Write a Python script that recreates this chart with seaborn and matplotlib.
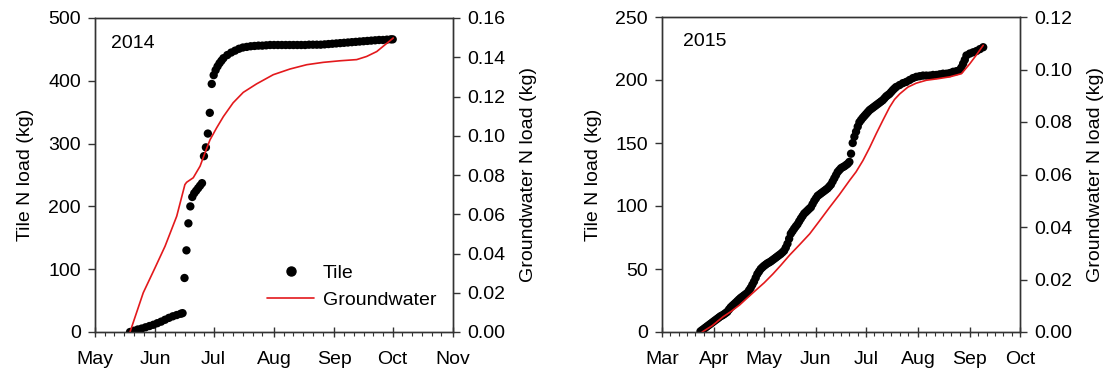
import numpy as np
import pandas as pd
import matplotlib
matplotlib.use("Agg")
import matplotlib.pyplot as plt
import matplotlib.dates as mdates
from matplotlib.lines import Line2D
import seaborn as sns

# ---------------- data ----------------
# 2014: days since 1 May 2014
tile14_days = [18, 20, 22, 24, 26, 28, 30, 32, 34, 36, 38, 40, 42, 44, 45,
               46, 47, 48, 49, 50, 51, 52, 53, 54, 55, 56, 57, 58, 59, 60, 61,
               62, 63, 64, 65, 66, 68, 70, 72, 74, 76, 78, 80, 82, 84, 86, 88,
               90, 92, 94, 96, 98, 100, 102, 104, 106, 108, 110, 112, 114, 116,
               118, 120, 122, 124, 126, 128, 130, 132, 134, 136, 138, 140, 142,
               144, 146, 148, 150, 152, 153]
tile14_kg = [0, 2, 4, 5.5, 7.5, 9.5, 11.5, 14, 16.5, 19.5, 22.5, 25, 27, 29, 30,
             86, 130, 173, 200, 215, 221, 225, 229, 233, 237, 280, 294, 316, 349, 395, 409,
             417, 423, 428, 432, 436, 441, 445, 448, 451, 453, 454, 455, 455.5, 456, 456, 456.5,
             457, 457, 457, 457, 457, 457, 457, 457, 457, 457, 457.5, 457.5, 457.5, 457.5,
             458, 458.5, 459, 459.5, 460, 460.5, 461, 461.5, 462, 462.5, 463, 463.5, 464,
             464.5, 465, 465, 465.5, 466, 466]

gw14_days = [18, 24.8, 30.8, 36, 42, 46.2, 47.1, 50.5, 54, 56.5, 59.1, 62.5, 66, 71,
             76.2, 83, 91.6, 100.2, 108.8, 117.3, 125.9, 134.5, 139.6, 144.8, 153.3]
gw14_kg = [0.0, 0.0200, 0.0326, 0.0437, 0.0590, 0.0751, 0.0763, 0.0786, 0.0845, 0.0912,
           0.0979, 0.1040, 0.1098, 0.1168, 0.1221, 0.1264, 0.1311, 0.1340, 0.1362,
           0.1374, 0.1382, 0.1388, 0.1404, 0.1429, 0.1498]

# 2015: days since 1 Mar 2015
tile15_days = list(range(23, 141)) + [142, 144, 146, 148, 150, 152, 154, 156, 158, 160,
                                      162, 164, 166, 168, 170, 172, 174, 176, 178, 179,
                                      180, 181, 182, 184, 186, 188, 190, 192]
tile15_kg = [0.5, 1.5, 2.5, 3.5, 4.5, 5.5, 6.5, 7.5, 8.5, 9.5,           # 23-32
             10.5, 11.5, 12.5, 13.2, 14, 15, 16, 17.8, 19.5, 20.8,        # 33-42
             22, 23.2, 24.5, 25.8, 27, 28, 29, 30, 31, 33,                # 43-52
             35, 37.5, 40, 43, 46, 48, 50, 51.3, 52.5, 53.5,              # 53-62
             54.5, 55.2, 56, 57, 58, 59, 60, 61, 62, 63.2,                # 63-72
             64.5, 67, 70, 74, 78, 80, 82, 83.8, 85.5, 87.8,              # 73-82
             90, 92, 94, 95.2, 96.5, 97.8, 99, 101.5, 104, 106,           # 83-92
             108, 109, 110, 111, 112, 113, 114, 115.5, 117, 119.5,        # 93-102
             122, 124.5, 127, 128.5, 130, 130.8, 131.5, 132.5, 133.5, 135,  # 103-112
             141.5, 150, 155, 159, 163, 166.5, 168.3, 170, 171.5, 173,    # 113-122
             174.5, 176, 177, 178, 179, 180, 181, 182, 183, 184,          # 123-132
             185.5, 187, 188, 189, 190.5, 192, 193.3, 194.5,              # 133-140
             196, 197.5, 198.5, 200, 201.5, 202.5, 203, 203.5, 203.5, 203.5,
             204, 204, 204.5, 205, 205, 205.5, 206.5, 207, 208, 210,
             213, 216, 219.5, 221, 222, 223, 224.5, 226]

gw15_days = [24, 30, 36.5, 41, 46.4, 51, 56.4, 61, 66.3, 71, 76.3, 82, 88.3, 94, 100.2,
             106, 112.2, 116, 120.1, 124, 128.1, 132, 136.1, 139, 142.1, 147, 152, 158,
             165, 172, 179, 184, 188, 192]
gw15_kg = [0.0, 0.0024, 0.0058, 0.0077, 0.0103, 0.0130, 0.0161, 0.0187, 0.0221, 0.0254,
           0.0293, 0.0331, 0.0374, 0.0422, 0.0475, 0.0523, 0.0578, 0.0610, 0.0653,
           0.0701, 0.0756, 0.0806, 0.0857, 0.0886, 0.0907, 0.0933, 0.0948, 0.0959,
           0.0965, 0.0972, 0.0984, 0.1022, 0.1056, 0.1092]

year_labels = ["2014", "2015"]

# ---------------- style ----------------
sns.set_theme(style="white")
plt.rcParams["font.family"] = ["Liberation Sans", "DejaVu Sans"]
plt.rcParams["axes.edgecolor"] = "#333333"
plt.rcParams["axes.linewidth"] = 1.0
plt.rcParams["text.color"] = "black"
plt.rcParams["axes.labelcolor"] = "black"
plt.rcParams["xtick.color"] = "black"
plt.rcParams["ytick.color"] = "black"

fig = plt.figure(figsize=(11.15, 3.73), dpi=100)
W, H = 1115, 373

def make_axes(x0, x1, y0, y1):
    return fig.add_axes([x0 / W, 1 - y1 / H, (x1 - x0) / W, (y1 - y0) / H])

RED = "#e3191c"
FS = 14

panels = [
    dict(ax=make_axes(95, 453, 18, 332), start="2014-05-01", end="2014-11-01",
         td=tile14_days, tv=tile14_kg, gd=gw14_days, gv=gw14_kg,
         ylim=(0, 500), yticks=np.arange(0, 501, 100),
         y2lim=(0, 0.16), y2ticks=np.arange(0, 0.161, 0.02),
         label=year_labels[0], lab_xy=(0.044, 0.919), legend=True),
    dict(ax=make_axes(662, 1020, 17, 332), start="2015-03-01", end="2015-10-01",
         td=tile15_days, tv=tile15_kg, gd=gw15_days, gv=gw15_kg,
         ylim=(0, 250), yticks=np.arange(0, 251, 50),
         y2lim=(0, 0.12), y2ticks=np.arange(0, 0.121, 0.02),
         label=year_labels[1], lab_xy=(0.059, 0.922), legend=False),
]

for p in panels:
    ax = p["ax"]
    t0 = pd.Timestamp(p["start"])
    tdates = t0 + pd.to_timedelta(np.array(p["td"], dtype=float), unit="D")
    gdates = t0 + pd.to_timedelta(np.array(p["gd"], dtype=float), unit="D")
    tile_df = pd.DataFrame({"date": tdates, "load": p["tv"]})
    gw_df = pd.DataFrame({"date": gdates, "load": p["gv"]})

    sns.scatterplot(data=tile_df, x="date", y="load", ax=ax, color="black",
                    s=36, linewidth=0, edgecolor="none", legend=False, zorder=3)
    ax2 = ax.twinx()
    sns.lineplot(data=gw_df, x="date", y="load", ax=ax2, color=RED, lw=1.2,
                 estimator=None, sort=False, legend=False)

    for a in (ax, ax2):
        a.set_xlim(t0, pd.Timestamp(p["end"]))
    ax.set_ylim(*p["ylim"])
    ax.set_yticks(p["yticks"])
    ax2.set_ylim(*p["y2lim"])
    ax2.set_yticks(p["y2ticks"])
    ax2.yaxis.set_major_formatter(matplotlib.ticker.FormatStrFormatter("%.2f"))

    ax.xaxis.set_major_locator(mdates.MonthLocator())
    ax.xaxis.set_major_formatter(mdates.DateFormatter("%b"))
    ax.xaxis.set_minor_locator(mdates.DayLocator(bymonthday=[6, 11, 16, 21, 26]))

    ax.set_xlabel("")
    ax.set_ylabel("Tile N load (kg)", fontsize=FS, labelpad=10)
    ax2.set_ylabel("Groundwater N load (kg)", fontsize=FS, labelpad=11)

    ax.tick_params(axis="x", which="major", direction="inout", length=7, width=1,
                   color="#333333", labelcolor="black", labelsize=FS, pad=10, bottom=True)
    ax.tick_params(axis="x", which="minor", direction="out", length=3, width=0.8,
                   color="#333333", bottom=True)
    ax.tick_params(axis="y", which="major", direction="out", length=5, width=1,
                   color="#333333", labelcolor="black", labelsize=FS, left=True, pad=5)
    ax2.tick_params(axis="y", which="major", direction="out", length=5, width=1,
                    color="#333333", labelcolor="black", labelsize=FS, right=True, pad=5)
    ax2.tick_params(axis="x", which="both", bottom=False, top=False)

    for a in (ax, ax2):
        for s in a.spines.values():
            s.set_visible(True)
            s.set_color("#333333")
            s.set_linewidth(1.0)

    ax.text(p["lab_xy"][0], p["lab_xy"][1], p["label"], transform=ax.transAxes,
            fontsize=FS, ha="left", va="center", color="black")

    if p["legend"]:
        handles = [Line2D([], [], marker="o", color="black", linestyle="none",
                          markersize=6.5),
                   Line2D([], [], color=RED, lw=1.2)]
        ax2.legend(handles, ["Tile", "Groundwater"], loc="lower right",
                   bbox_to_anchor=(0.975, 0.05), frameon=False, fontsize=FS,
                   handlelength=2.4, handletextpad=0.45, labelspacing=0.45,
                   borderaxespad=0.0, labelcolor="black")

fig.savefig("out.png", dpi=100, facecolor="white")
